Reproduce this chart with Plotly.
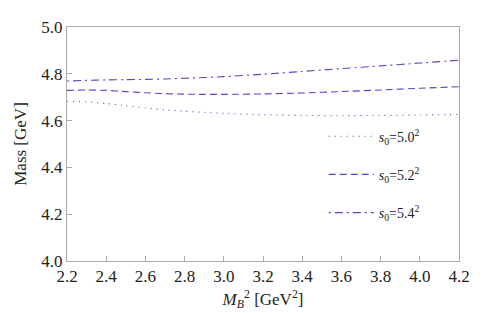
import plotly.graph_objects as go

m2 = [2.2, 2.3, 2.4, 2.5, 2.6, 2.7, 2.8, 2.9, 3.0, 3.2, 3.4, 3.6, 3.8, 4.0, 4.2]
mass_s50 = [4.683, 4.680, 4.673, 4.664, 4.654, 4.646, 4.640, 4.635, 4.631, 4.625, 4.622, 4.621, 4.622, 4.624, 4.626]
mass_s52 = [4.729, 4.731, 4.729, 4.724, 4.719, 4.715, 4.713, 4.712, 4.712, 4.714, 4.718, 4.724, 4.731, 4.738, 4.745]
mass_s54 = [4.769, 4.772, 4.774, 4.775, 4.776, 4.778, 4.781, 4.784, 4.788, 4.798, 4.810, 4.822, 4.834, 4.846, 4.858]
labels = ["<i>s</i><sub>0</sub>=5.0<sup>2</sup>",
          "<i>s</i><sub>0</sub>=5.2<sup>2</sup>",
          "<i>s</i><sub>0</sub>=5.4<sup>2</sup>"]
dashes = ["1px,5px", "7px,4px", "2px,4px,8px,4px"]
color = "#4b4bcc"
FONT = "Liberation Serif, Times New Roman, serif"

fig = go.Figure()
for i, (ys, lab, d) in enumerate(zip([mass_s50, mass_s52, mass_s54], labels, dashes)):
    fig.add_trace(go.Scatter(x=m2, y=ys, mode="lines", name=lab, legendgroup=f"g{i}",
                             line=dict(color=color, width=1.1, dash=d, shape="spline", smoothing=0.6)))

axis_common = dict(showline=True, linecolor="#aaaaaa", linewidth=1, mirror=True,
                   ticks="inside", ticklen=5, tickcolor="#aaaaaa", showgrid=False,
                   zeroline=False, tickfont=dict(family=FONT, size=17, color="#222"))
fig.update_xaxes(range=[2.2, 4.2], tickvals=[2.2 + 0.2 * k for k in range(11)],
                 ticktext=[f"{2.2 + 0.2 * k:.1f}" for k in range(11)],
                 title=dict(text="<i>M</i><sub><i>B</i></sub><sup>2</sup> [GeV<sup>2</sup>]",
                            font=dict(family=FONT, size=17, color="#222"), standoff=7),
                 **axis_common)
fig.update_yaxes(range=[4.0, 5.0], tickvals=[4.0, 4.2, 4.4, 4.6, 4.8, 5.0],
                 ticktext=["4.0", "4.2", "4.4", "4.6", "4.8", "5.0"],
                 title=dict(text="Mass [GeV]", font=dict(family=FONT, size=17, color="#222"),
                            standoff=10),
                 **axis_common)
fig.update_layout(width=500, height=313, margin=dict(l=59, r=49, t=10, b=60),
                  plot_bgcolor="white", paper_bgcolor="white",
                  legend=dict(x=0.655, y=0.60, xanchor="left", yanchor="top", itemwidth=45,
                              bgcolor="rgba(0,0,0,0)", traceorder="grouped", tracegroupgap=17,
                              font=dict(family=FONT, size=14, color="#222")))
fig.write_html("out.html")
